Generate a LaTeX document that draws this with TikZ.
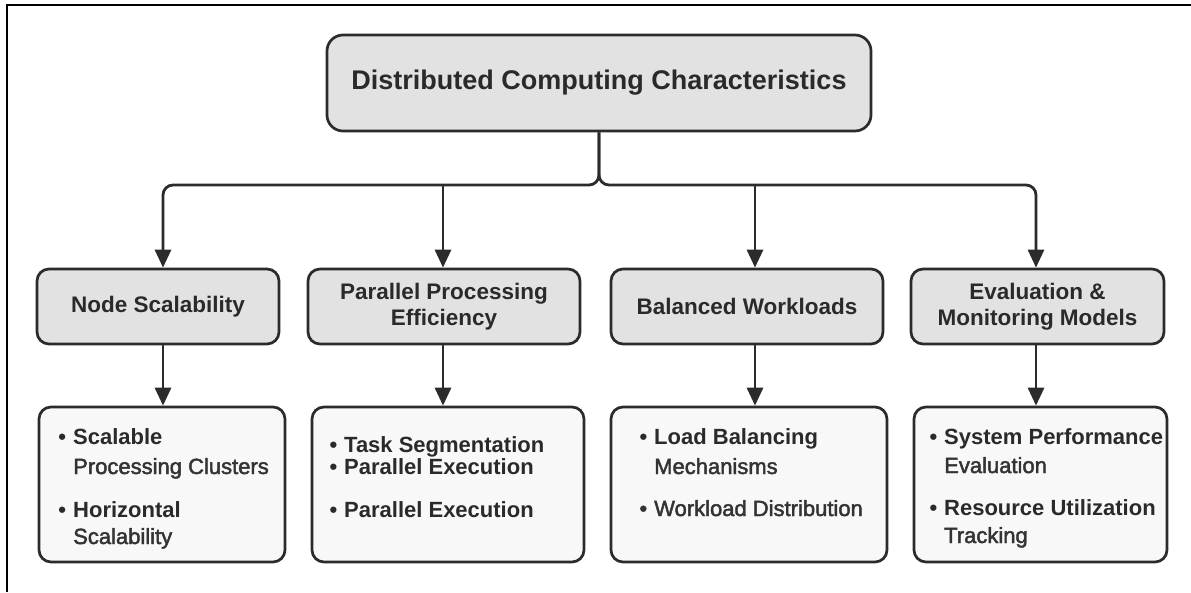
\documentclass[tikz,border=0pt]{standalone}
\usepackage{fontspec}
\setmainfont{Liberation Sans}
\newfontfamily\softfont[FakeBold=2]{Liberation Sans}
\usetikzlibrary{arrows.meta}
\definecolor{linec}{HTML}{2B2B2B}
\definecolor{headfill}{HTML}{E2E2E2}
\definecolor{bodyfill}{HTML}{F8F8F8}
\definecolor{txt}{HTML}{2A2A2A}
\definecolor{txtsoft}{HTML}{333333}
\newcommand{\itembul}{\llap{\textbullet\hspace{7pt}}}
\begin{document}
\begin{tikzpicture}[x=1pt,y=-1pt,
  box/.style={draw=linec, line width=2.7pt, rounded corners=12pt, inner sep=0pt},
  head/.style={box, fill=headfill, text=txt, align=center,
    font=\bfseries\fontsize{22.5}{26.5}\selectfont, minimum height=75pt},
  body/.style={box, fill=bodyfill, minimum height=155pt},
  conn/.style={draw=linec, line width=2.8pt, -{Triangle[width=16pt,length=18pt]}},
  itm/.style={anchor=base west, inner sep=0pt, text=txt,
    font=\bfseries\fontsize{22}{26}\selectfont},
  soft/.style={anchor=base west, inner sep=0pt, text=txtsoft,
    font=\softfont\fontsize{22}{26}\selectfont}]
\useasboundingbox (0,0) rectangle (1191,592);
\fill[white] (0,0) rectangle (1191,592);
% outer frame (left and top edges)
\draw[black, line width=2.5pt] (7,592) -- (7,5) -- (1191,5);

% root
\node[box, fill=headfill, text=txt, minimum width=544pt, minimum height=96pt,
  rounded corners=16pt, font=\bfseries\fontsize{27}{32}\selectfont]
  (root) at (599,83) {Distributed Computing Characteristics};

% second level
\node[head, minimum width=242pt] (ns) at (158,306.5) {Node Scalability};
\node[head, minimum width=272pt] (pp) at (444,306.5) {Parallel Processing\\Efficiency};
\node[head, minimum width=272pt] (bw) at (747,306.5) {Balanced Workloads};
\node[head, minimum width=253pt] (em) at (1037.5,306.5) {Evaluation \&\\Monitoring Models};

% detail boxes
\node[body, minimum width=246pt] (c1) at (162,484.5) {};
\node[body, minimum width=272pt] (c2) at (448,484.5) {};
\node[body, minimum width=276pt] (c3) at (749,484.5) {};
\node[body, minimum width=253pt] (c4) at (1040.5,484.5) {};

% branch columns on the distribution bar
\coordinate (k1) at (163,185);
\coordinate (k2) at (443,185);
\coordinate (k3) at (755,185);
\coordinate (k4) at (1036,185);

\draw[conn, rounded corners=10pt] (root.south) -- (root.south |- k1) -- (k1) -- (k1 |- ns.north);
\draw[conn, rounded corners=10pt] (root.south) -- (root.south |- k4) -- (k4) -- (k4 |- em.north);
\draw[conn] (k2) -- (k2 |- pp.north);
\draw[conn] (k3) -- (k3 |- bw.north);

\draw[conn] (k1 |- ns.south) -- (k1 |- c1.north);
\draw[conn] (k2 |- pp.south) -- (k2 |- c2.north);
\draw[conn] (k3 |- bw.south) -- (k3 |- c3.north);
\draw[conn] (k4 |- em.south) -- (k4 |- c4.north);

% detail texts
\node[itm]  (t11) at (73,444) {\itembul Scalable};
\node[soft] (t12) at (73,474) {Processing Clusters};
\node[itm]  (t13) at (73,517) {\itembul Horizontal};
\node[soft] (t14) at (73,544) {Scalability};

\node[itm] (t21) at (344,452) {\itembul Task Segmentation};
\node[itm] (t22) at (344,474) {\itembul Parallel Execution};
\node[itm] (t23) at (344,517) {\itembul Parallel Execution};

\node[itm]  (t31) at (654,444) {\itembul Load Balancing};
\node[soft] (t32) at (654,474) {Mechanisms};
\node[soft] (t33) at (654,516) {\itembul Workload Distribution};

\node[itm]  (t41) at (944,444) {\itembul System Performance};
\node[soft] (t42) at (944,473) {Evaluation};
\node[itm]  (t43) at (944,515) {\itembul Resource Utilization};
\node[soft] (t44) at (944,543) {Tracking};
\end{tikzpicture}
\end{document}
